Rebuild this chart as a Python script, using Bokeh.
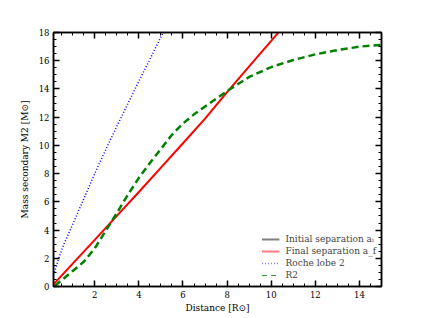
from bokeh.plotting import figure
from bokeh.models import (LinearAxis, SingleIntervalTicker, Range1d, Legend, LegendItem,
                          CustomJSTickFormatter)
from bokeh.embed import file_html
from bokeh.resources import INLINE

# ---- data ----
final_x = [0.13, 1, 2, 3, 4, 5, 6, 7, 8, 9, 10, 10.6]
final_y = [0.15, 1.62, 3.3, 5.0, 6.7, 8.42, 10.15, 11.9, 13.78, 15.6, 17.4, 18.5]

roche_x = [0.13, 0.37, 0.6, 1.0, 1.5, 2.0, 2.5, 3.0, 3.5, 4.0, 4.5, 5.1, 5.3]
roche_y = [0.8, 2.0, 3.0, 4.4, 6.2, 8.0, 9.7, 11.35, 12.95, 14.55, 16.1, 18.0, 18.6]

r2_x = [0.2, 0.5, 1.0, 1.5, 2.0, 2.5, 3.0, 3.5, 4.0, 4.5, 5.0, 5.5, 6.0, 6.5, 7.0,
        8.0, 9.0, 10.0, 11.0, 12.0, 13.0, 14.0, 15.0]
r2_y = [0.05, 0.45, 1.1, 1.75, 2.7, 3.95, 5.2, 6.5, 7.7, 8.75, 9.75, 10.75, 11.55, 12.2, 12.75,
        13.85, 14.85, 15.55, 16.05, 16.45, 16.75, 17.0, 17.12]

# initial separation lies outside the plotted window (no visible points)
initial_x = [float("nan")]
initial_y = [float("nan")]

labels = ["Initial separation aᵢ", "Final separation a_f", "Roche lobe 2", "R2"]

FONT = "DejaVu Serif"

p = figure(width=424, height=318, frame_width=328, frame_height=254,
           output_backend="svg", toolbar_location=None,
           x_range=Range1d(0.13, 15.0), y_range=Range1d(0, 18),
           min_border_left=53, min_border_right=43, min_border_top=32, min_border_bottom=32,
           x_axis_label="Distance [R⊙]", y_axis_label="Mass secondary M2 [M⊙]")

p.xgrid.visible = False
p.ygrid.visible = False
p.outline_line_color = "black"
p.outline_line_width = 1.5
p.background_fill_color = "white"
p.border_fill_color = "white"

r_init = p.line(initial_x, initial_y, line_color="black", line_width=2)
r_final = p.line(final_x, final_y, line_color="#ff0000", line_width=2)
r_roche = p.line(roche_x, roche_y, line_color="#0000ff", line_width=1.5, line_dash="1 2")
r_r2 = p.line(r2_x, r2_y, line_color="#008000", line_width=2.5, line_dash="7 4")

# faded legend handles (no visible points of their own)
nan_x = [float("nan")]
nan_y = [float("nan")]
h_init = p.line(nan_x, nan_y, line_color="black", line_width=2, line_alpha=0.5)
h_final = p.line(nan_x, nan_y, line_color="#ff0000", line_width=2, line_alpha=0.5)
h_roche = p.line(nan_x, nan_y, line_color="#0000ff", line_width=1.5, line_alpha=0.5, line_dash="1 2")
h_r2 = p.line(nan_x, nan_y, line_color="#008000", line_width=1.2, line_alpha=0.8, line_dash="5 4")

legend = Legend(items=[LegendItem(label=labels[0], renderers=[h_init]),
                       LegendItem(label=labels[1], renderers=[h_final]),
                       LegendItem(label=labels[2], renderers=[h_roche]),
                       LegendItem(label=labels[3], renderers=[h_r2])],
                location="bottom_right")
legend.border_line_color = None
legend.background_fill_alpha = 0
legend.label_text_font = FONT
legend.label_text_font_size = "9px"
legend.label_height = 12
legend.glyph_height = 12
legend.glyph_width = 18
legend.label_standoff = 6
legend.spacing = 0
legend.padding = 2
legend.margin = 5
p.add_layout(legend)


def style_axis(ax, show_labels=True):
    ax.axis_line_color = "black"
    ax.axis_line_width = 1.5
    ax.major_tick_line_color = "black"
    ax.major_tick_line_width = 1.5
    ax.minor_tick_line_color = "black"
    ax.minor_tick_line_width = 1
    ax.major_tick_in = 6
    ax.major_tick_out = 0
    ax.minor_tick_in = 3
    ax.minor_tick_out = 0
    ax.major_label_text_font = FONT
    ax.major_label_text_font_size = "8.5px"
    ax.major_label_text_color = "black"
    ax.major_label_standoff = 4
    ax.axis_label_text_font = FONT
    ax.axis_label_text_font_size = "9px"
    ax.axis_label_text_font_style = "normal"
    ax.axis_label_text_color = "black"
    ax.axis_label_standoff = 6
    ax.ticker = SingleIntervalTicker(interval=2, num_minor_ticks=4)
    if not show_labels:
        ax.formatter = CustomJSTickFormatter(code="return ''")
        ax.major_label_standoff = 0


style_axis(p.xaxis[0])
style_axis(p.yaxis[0])
p.xaxis[0].axis_label_standoff = 2

top = LinearAxis()
style_axis(top, show_labels=False)
p.add_layout(top, "above")
right = LinearAxis()
style_axis(right, show_labels=False)
p.add_layout(right, "right")

open("out.html", "w").write(file_html(p, INLINE))
